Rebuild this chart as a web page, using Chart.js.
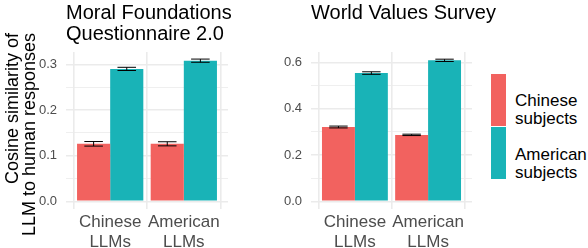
<!DOCTYPE html>
<html>
<head>
<meta charset="utf-8">
<script src="https://cdn.jsdelivr.net/npm/chart.js@4.4.1/dist/chart.umd.min.js"></script>
<style>
  body { margin: 0; background: #fff; font-family: 'Liberation Sans', Arial, sans-serif; }
  #wrap { position: relative; width: 588px; height: 248px; overflow: hidden; }
  canvas { position: absolute; top: 0; }
  #mfq { left: 0; }
  #wvs { left: 245px; }
  .title { position: absolute; top: 1.5px; font-size: 20px; line-height: 21px; color: #000; white-space: nowrap; }
  #mfqTitle { left: 66px; }
  #wvsTitle { left: 311px; }
  #ytitle {
    position: absolute; left: 4px; top: 236px; width: 203px;
    font-size: 18px; line-height: 17px; text-align: right; white-space: nowrap;
    transform-origin: 0 0; transform: rotate(-90deg); color: #000;
  }
  .key { position: absolute; left: 491px; width: 15px; height: 52px; }
  .lab { position: absolute; left: 515px; font-size: 17px; line-height: 18px; color: #000; }
</style>
</head>
<body>
<div id="wrap">
  <canvas id="mfq" width="232" height="248"></canvas>
  <canvas id="wvs" width="231" height="248"></canvas>
  <div class="title" id="mfqTitle"></div>
  <div class="title" id="wvsTitle"></div>
  <div id="ytitle">Cosine similarity of<br>LLM to human responses</div>
  <div id="legend"></div>
</div>
<script>
// ------------------- DATA -------------------
const llmGroups = ["Chinese LLMs", "American LLMs"];
const subjectGroups = ["Chinese subjects", "American subjects"];
const subjectColors = ["#F2625F", "#19B3B7"];

// Moral Foundations Questionnaire 2.0
const mfqTitle = ["Moral Foundations", "Questionnaire 2.0"];
const mfqChinese = [0.126, 0.126];
const mfqAmerican = [0.290, 0.308];
const mfqChineseErr = [0.005, 0.0045];
const mfqAmericanErr = [0.0035, 0.0035];
const mfqTicks = [0, 0.05, 0.1, 0.15, 0.2, 0.25, 0.3];
const mfqMajor = [0, 0.1, 0.2, 0.3];
const mfqRange = [-0.0156, 0.327];

// World Values Survey
const wvsTitle = ["World Values Survey"];
const wvsChinese = [0.321, 0.287];
const wvsAmerican = [0.554, 0.609];
const wvsChineseErr = [0.004, 0.003];
const wvsAmericanErr = [0.0055, 0.005];
const wvsTicks = [0, 0.1, 0.2, 0.3, 0.4, 0.5, 0.6];
const wvsMajor = [0, 0.2, 0.4, 0.6];
const wvsRange = [-0.031, 0.645];

Chart.defaults.font.family = "'Liberation Sans', Arial, sans-serif";

// ------------------- ERROR BARS -------------------
const errorBars = {
  id: "errorBars",
  afterDatasetsDraw(chart) {
    const ctx = chart.ctx;
    const y = chart.scales.y;
    ctx.save();
    ctx.strokeStyle = "#000";
    ctx.lineWidth = 1;
    chart.data.datasets.forEach((ds, i) => {
      chart.getDatasetMeta(i).data.forEach((bar, j) => {
        const v = ds.data[j].y, e = ds.errors[j];
        const top = y.getPixelForValue(v + e);
        const bot = y.getPixelForValue(v - e);
        const half = bar.width * 0.28;
        ctx.beginPath();
        ctx.moveTo(bar.x, top); ctx.lineTo(bar.x, bot);
        ctx.moveTo(bar.x - half, top); ctx.lineTo(bar.x + half, top);
        ctx.moveTo(bar.x - half, bot); ctx.lineTo(bar.x + half, bot);
        ctx.stroke();
      });
    });
    ctx.restore();
  }
};

// ------------------- PANEL -------------------
function panel(id, title, series, errs, ticks, majors, range) {
  document.getElementById(id + "Title").innerHTML = title.join("<br>");
  new Chart(document.getElementById(id), {
    type: "bar",
    data: {
      datasets: series.map((vals, s) => ({
        label: subjectGroups[s],
        data: vals.map((v, i) => ({ x: i + 1, y: v })),
        errors: errs[s],
        backgroundColor: subjectColors[s],
        borderWidth: 0,
        categoryPercentage: 0.9,
        barPercentage: 1.0
      }))
    },
    options: {
      responsive: false,
      animation: false,
      devicePixelRatio: 1,
      layout: { padding: { left: 36, right: 4, top: 52, bottom: 0 } },
      plugins: {
        legend: { display: false },
        tooltip: { enabled: false }
      },
      scales: {
        x: {
          type: "linear", min: 0.4, max: 2.6, offset: false,
          afterBuildTicks: ax => { ax.ticks = llmGroups.map((_, i) => ({ value: i + 1 })); },
          afterFit: ax => { ax.height = 39.5; },
          ticks: {
            callback: v => llmGroups[v - 1].split(" "),
            color: "#4d4d4d", font: { size: 17, lineHeight: 1.15 },
            padding: 4.5, maxRotation: 0, autoSkip: false
          },
          grid: { color: "#ebebeb", lineWidth: 1.6, drawTicks: false },
          border: { display: false }
        },
        y: {
          min: range[0], max: range[1],
          afterBuildTicks: ax => { ax.ticks = ticks.map(v => ({ value: v })); },
          afterFit: ax => { ax.width = 30; },
          ticks: {
            callback: v => majors.includes(v) ? v.toFixed(1) : "",
            color: "#4d4d4d", font: { size: 13 }, padding: 9
          },
          grid: {
            color: "#ebebeb", drawTicks: false,
            lineWidth: c => majors.includes(c.tick.value) ? 1.6 : 0.8
          },
          border: { display: false }
        }
      }
    },
    plugins: [errorBars]
  });
}

panel("mfq", mfqTitle, [mfqChinese, mfqAmerican], [mfqChineseErr, mfqAmericanErr], mfqTicks, mfqMajor, mfqRange);
panel("wvs", wvsTitle, [wvsChinese, wvsAmerican], [wvsChineseErr, wvsAmericanErr], wvsTicks, wvsMajor, wvsRange);

// ------------------- LEGEND -------------------
const legend = document.getElementById("legend");
subjectGroups.forEach((name, i) => {
  legend.innerHTML += `<div class="key" style="top:${74 + i * 53}px;background:${subjectColors[i]}"></div>`;
  legend.innerHTML += `<div class="lab" style="top:${91.5 + i * 54}px">${name.replace(" ", "<br>")}</div>`;
});
</script>
</body>
</html>
